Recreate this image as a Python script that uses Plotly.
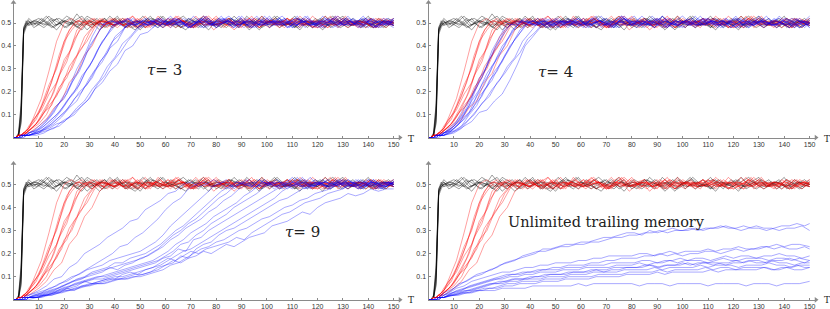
import plotly.graph_objects as go

# time grids (T = 0..6 step 1, then every 3 steps); three phases so runs interleave
T_GRID_A = list(range(0, 7)) + list(range(9, 151, 3))
T_GRID_B = list(range(0, 7)) + list(range(8, 147, 3)) + [150]
T_GRID_C = list(range(0, 7)) + list(range(10, 151, 3)) + [150]
T_GRIDS = [T_GRID_A, T_GRID_B, T_GRID_C]

# values are in hundredths (0.01 units), one list per run
black_runs = [
    [0,0,1,8,46,49,50, 51,49,52,50,48,51,53,49, 50,52,48,50,51,49,53,50, 48,51,50,52,49,51,48,50, 52,50,49,51,47,50,52,49, 51,50,48,52,50,49,51,53, 50,48,50,51,49,52,50,49],
    [0,0,1,12,47,50,51, 49,52,50,47,51,50,49,53, 51,48,50,52,49,50,47,51, 50,53,49,50,51,48,52,50, 49,51,50,48,53,50,49,51, 52,49,50,47,51,50,52,48, 50,51,49,50,53,48,51,50],
    [0,0,1,6,45,48,50, 52,50,48,51,49,54,50,48, 51,50,49,52,50,48,51,49, 53,50,48,50,52,49,51,50, 48,52,51,49,50,47,51,50, 49,51,52,50,48,50,49,51, 53,49,50,48,51,50,52,50],
    [0,0,2,15,48,50,49, 50,48,51,52,50,49,47,51, 50,52,49,50,48,51,50,53, 49,50,51,48,50,52,49,50, 51,49,53,50,48,51,50,49, 50,52,48,51,50,49,53,50, 48,50,51,49,52,50,48,51],
    [0,0,1,10,47,49,51, 48,50,53,49,51,50,48,52, 49,51,50,53,48,50,51,49, 50,48,52,50,51,49,50,47, 51,50,49,52,50,51,48,50, 53,50,49,51,48,52,50,49, 51,50,52,48,50,49,51,50],
    [0,0,1,7,46,49,50, 50,53,49,50,52,48,51,50, 47,50,52,49,51,50,48,52, 50,49,51,53,50,48,51,49, 50,52,49,50,51,48,50,53, 49,50,48,51,50,52,49,50, 52,49,51,50,48,51,50,49],
    [0,0,1,11,47,50,52, 49,51,48,50,53,51,49,50, 52,48,50,51,49,47,50,52, 51,49,50,48,52,50,53,49, 50,48,51,50,49,52,50,51, 48,50,53,49,50,51,48,52, 50,49,50,52,48,51,49,50],
    [0,0,2,14,48,51,49, 51,50,49,52,48,50,51,47, 50,49,53,50,51,48,50,52, 49,51,50,49,47,51,50,52, 48,50,52,49,51,50,53,48, 51,49,50,52,49,50,47,51, 49,52,50,51,49,50,48,52],
]

red_runs = [
    [0,0,1,1,2,3,4, 9,17,29,42,50,52,49,51, 50,48,52,50,49,53,50,48, 51,50,49,52,50,48,51,50, 53,49,50,51,48,50,52,49, 50,51,49,53,50,48,51,50, 49,52,50,48,51,50,49,51],
    [0,0,1,1,2,3,5, 11,18,28,37,47,51,50,48, 52,50,49,51,48,50,53,49, 50,52,48,51,50,49,51,47, 50,52,49,51,50,48,52,50, 51,49,50,52,48,51,50,53, 49,50,51,48,50,52,49,50],
    [0,0,1,1,2,2,4, 8,16,24,36,45,50,52,49, 51,50,48,52,49,50,51,48, 53,50,49,51,50,48,52,49, 50,51,47,50,52,49,51,50, 48,52,50,49,51,50,53,49, 50,48,51,50,49,52,50,51],
    [0,0,1,1,2,3,4, 7,14,23,30,42,47,51,50, 49,52,50,48,51,53,49,50, 51,48,50,52,49,50,51,49, 52,50,48,51,50,49,53,50, 49,51,50,48,52,50,49,51, 50,53,49,50,51,48,50,52],
    [0,0,1,1,2,2,3, 7,13,20,30,37,47,50,52, 50,48,51,49,50,52,48,51, 50,49,53,50,48,51,50,49, 51,52,49,50,48,51,50,52, 49,50,51,49,53,50,48,50, 52,49,51,50,48,50,51,49],
    [0,0,1,1,1,2,3, 6,12,18,27,33,43,48,51, 50,49,52,50,48,51,50,49, 52,50,51,48,50,53,49,50, 51,49,50,52,48,50,51,50, 49,52,50,51,49,48,50,52, 50,51,49,50,52,48,51,50],
    [0,0,1,1,2,3,4, 8,12,19,24,34,39,47,50, 52,49,50,51,48,50,52,49, 51,50,48,52,50,49,51,53, 50,48,51,50,49,52,50,48, 51,50,52,49,50,51,48,50, 53,50,49,51,50,48,52,50],
    [0,0,1,1,1,2,3, 6,10,17,22,31,36,44,48, 51,50,49,52,50,48,51,50, 49,52,50,51,48,50,49,52, 50,51,49,50,53,48,50,51, 50,49,52,50,48,51,50,49, 51,50,48,52,50,49,51,50],
    [0,0,1,1,2,2,3, 6,11,14,22,26,34,39,46, 50,51,49,50,52,48,50,51, 49,50,52,50,48,51,53,50, 49,51,50,48,52,50,49,51, 50,52,49,50,51,48,50,52, 49,51,50,49,52,50,48,51],
    [0,0,1,1,1,2,3, 5,9,14,18,26,30,38,42, 48,51,50,49,52,50,48,51, 50,49,51,53,50,48,50,52, 49,50,51,48,50,52,49,51, 50,48,52,50,49,51,50,53, 48,50,51,49,50,52,50,49],
    [0,0,0,1,1,2,2, 5,8,13,16,24,28,36,40, 47,50,52,49,50,51,48,50, 52,49,50,51,48,50,53,49, 50,51,49,52,50,48,51,50, 49,50,52,49,51,50,48,52, 50,49,51,50,48,51,50,49],
]

blue_tau3 = [
    [0,0,0,1,1,1,2, 4,7,11,17,22,30,36,44, 50,49,51,50,52,48,50,51, 49,52,50,48,51,50,53,49, 50,51,48,50,52,49,50,51, 53,50,49,51,48,50,52,50, 49,51,50,52,49,48,51,50],
    [0,0,0,1,1,1,2, 3,6,10,15,19,26,32,40, 45,50,51,49,52,50,48,51, 50,49,52,51,48,50,51,49, 52,50,48,51,50,53,49,50, 51,48,50,52,49,51,50,48, 50,52,51,49,50,48,52,51],
    [0,0,0,1,1,1,2, 3,6,9,14,17,24,29,37, 43,49,51,50,48,52,50,49, 51,50,53,49,50,48,51,52, 49,50,51,48,52,50,49,51, 50,52,48,50,51,49,53,50, 48,51,50,49,52,50,51,49],
    [0,0,0,0,1,1,1, 2,5,8,12,17,21,28,33, 40,45,50,51,49,50,52,48, 51,50,49,52,50,51,48,50, 53,49,51,50,48,50,52,49, 50,51,49,53,50,48,51,50, 52,49,50,51,48,50,49,52],
    [0,0,0,1,1,1,2, 3,5,8,11,16,20,27,31, 38,43,49,50,52,49,51,50, 48,51,50,49,52,50,48,51, 50,52,49,50,51,48,53,50, 49,50,52,51,49,50,48,51, 50,53,49,50,51,49,50,52],
    [0,0,0,0,1,1,1, 2,4,7,10,14,19,23,30, 35,42,46,50,51,49,50,52, 50,48,51,50,49,53,50,51, 48,50,52,49,51,50,49,52, 50,51,48,50,53,49,51,50, 49,52,50,48,51,50,52,49],
    [0,0,0,1,1,1,1, 2,4,6,9,13,16,22,26, 33,37,44,47,50,51,49,50, 52,49,51,50,48,52,50,49, 51,53,50,48,51,50,49,51, 50,48,52,50,49,51,50,53, 49,50,51,52,48,50,51,49],
    [0,0,0,0,1,1,1, 2,4,6,9,12,17,20,26, 31,36,42,45,50,49,51,50, 52,50,49,51,48,50,53,50, 49,51,50,52,48,51,50,49, 52,50,51,49,50,48,51,52, 50,49,50,53,49,51,50,48],
    [0,0,0,0,1,1,1, 2,3,5,8,11,15,20,23, 29,33,39,42,48,50,51,49, 50,52,48,51,50,49,52,50, 48,51,50,53,49,50,51,48, 50,52,49,50,51,50,48,51, 53,50,49,52,50,48,51,50],
    [0,0,0,0,0,1,1, 2,3,4,7,9,13,16,21, 25,31,35,41,44,48,50,51, 49,50,52,50,48,51,49,50, 52,51,49,50,48,52,50,51, 49,50,53,48,51,50,49,52, 50,51,48,50,52,49,50,51],
    [0,0,0,0,0,1,1, 1,2,4,5,8,10,14,17, 23,27,33,37,42,46,49,50, 52,49,51,50,48,50,52,49, 51,50,48,53,50,49,51,50, 52,48,50,51,49,50,52,50, 49,51,50,48,52,50,49,51],
    [0,0,0,0,0,1,1, 2,3,4,6,7,10,13,16, 21,24,29,32,38,40,45,46, 49,51,50,52,49,50,48,51, 50,52,49,51,50,48,50,53, 49,50,51,48,52,50,49,51, 50,49,52,50,48,51,50,49],
]

blue_tau4 = [
    [0,0,0,1,1,2,2, 5,9,14,22,29,38,44,50, 49,51,50,52,48,50,51,49, 50,52,49,51,50,48,53,50, 51,49,50,52,48,51,50,49, 52,50,51,49,50,53,48,50, 51,49,52,50,49,51,50,48],
    [0,0,0,1,1,1,2, 4,8,13,20,26,34,40,47, 50,51,49,50,52,48,50,51, 49,50,51,53,49,50,48,52, 50,51,49,50,52,49,51,50, 48,52,50,49,51,50,52,49, 50,48,51,52,50,49,50,51],
    [0,0,0,1,1,1,2, 4,7,13,18,26,31,39,44, 49,50,52,49,51,50,48,50, 51,49,50,52,48,51,50,53, 49,50,51,50,48,52,49,51, 50,53,49,50,51,48,50,52, 49,51,50,48,50,52,51,49],
    [0,0,0,1,1,1,2, 4,7,11,18,23,31,36,43, 48,51,50,49,52,50,49,51, 50,48,52,50,49,51,53,50, 48,50,51,49,52,50,48,51, 50,49,52,51,50,48,50,49, 53,50,49,51,50,52,48,50],
    [0,0,0,1,1,1,2, 3,6,12,16,23,28,35,40, 47,50,51,49,50,52,48,50, 51,50,49,52,50,48,51,49, 50,53,50,49,51,50,48,52, 49,50,51,50,52,49,51,48, 50,51,49,53,50,48,51,50],
    [0,0,0,0,1,1,1, 3,6,10,16,21,28,33,40, 44,49,50,51,49,50,52,49, 51,50,48,50,53,49,51,50, 49,52,50,48,51,50,49,51, 52,49,50,51,48,50,52,50, 49,51,50,49,52,51,48,50],
    [0,0,0,1,1,1,2, 3,5,10,14,21,25,32,37, 43,47,51,50,49,51,50,48, 52,50,49,51,50,48,52,51, 49,50,53,50,48,51,50,49, 51,52,50,49,50,48,51,50, 52,49,51,50,48,50,49,52],
    [0,0,0,0,1,1,1, 3,6,9,14,18,25,29,36, 41,47,50,49,51,50,52,49, 50,51,48,50,52,49,50,51, 53,49,50,52,48,50,51,50, 49,51,50,48,52,50,49,51, 50,52,49,50,51,48,50,53],
    [0,0,0,0,1,1,1, 2,5,9,12,18,22,29,33, 40,44,49,51,50,48,50,51, 49,52,50,51,49,50,48,52, 50,49,51,50,53,49,50,48, 51,50,52,49,50,51,48,50, 52,49,50,51,49,50,52,48],
    [0,0,0,0,1,1,1, 2,4,8,12,16,21,25,31, 35,42,46,50,51,49,50,52, 48,50,51,49,52,50,49,51, 50,48,52,50,49,51,53,50, 49,50,51,48,50,52,49,51, 50,53,49,50,48,51,50,49],
    [0,0,0,0,0,1,1, 2,4,7,10,15,18,24,28, 33,37,43,46,50,49,51,50, 52,49,50,48,51,50,52,49, 51,50,49,52,50,48,51,50, 53,49,50,51,49,52,50,48, 51,50,49,50,52,49,51,50],
    [0,0,0,0,0,1,1, 2,3,5,7,11,12,16,19, 25,32,40,44,48,50,49,51, 50,52,49,50,51,48,50,52, 49,51,50,48,53,50,49,51, 50,49,52,50,51,48,50,51, 49,50,52,49,50,51,48,50],
]

blue_tau9 = [
    [0,0,0,1,1,2,2, 4,6,9,10,14,16,20,22, 24,27,29,31,34,35,39,41, 43,46,47,50,51,49,50,52, 50,48,51,50,49,52,50,51, 48,50,53,49,50,51,49,50, 52,50,48,51,50,49,51,50],
    [0,0,0,1,1,1,2, 3,4,5,7,8,10,12,14, 16,18,20,23,24,27,29,32, 35,39,42,44,48,50,51,49, 50,52,48,51,50,49,52,50, 51,48,50,53,49,50,51,50, 49,52,50,48,51,50,49,51],
    [0,0,0,0,1,1,1, 2,3,5,6,8,10,11,13, 14,15,17,18,19,20,21,23, 25,28,32,35,38,41,44,47, 50,51,49,50,52,48,51,50, 49,50,53,50,48,51,50,49, 52,50,51,49,50,48,51,50],
    [0,0,0,0,1,1,1, 2,3,4,6,7,9,10,12, 13,14,16,16,18,19,20,22, 24,27,30,32,35,38,41,44, 47,49,51,50,49,52,50,48, 51,50,49,52,50,51,48,50, 50,49,52,50,51,48,50,51],
    [0,0,0,0,0,1,1, 2,3,4,5,7,8,9,11, 12,13,14,15,16,17,18,20, 22,25,28,30,33,35,38,41, 44,46,49,50,52,49,50,51, 48,50,51,49,53,50,49,51, 50,48,52,50,49,51,50,52],
    [0,0,0,0,1,1,1, 2,3,4,5,6,8,9,10, 11,12,14,13,15,16,18,19, 21,23,26,28,31,33,35,38, 40,43,45,48,50,51,49,50, 52,50,48,51,50,49,52,50, 51,49,50,48,52,50,51,49],
    [0,0,0,0,0,1,1, 2,2,3,5,6,7,8,9, 10,11,12,13,14,15,16,17, 19,21,24,26,29,31,33,36, 38,40,42,45,47,50,51,49, 50,52,50,48,51,50,49,52, 50,51,48,50,52,49,50,51],
    [0,0,0,0,0,1,1, 1,2,3,4,5,7,8,9, 10,10,11,12,13,14,15,16, 17,19,21,24,25,28,30,33, 35,37,40,42,44,46,49,50, 51,49,50,52,48,50,51,50, 52,50,49,51,50,48,51,50],
    [0,0,0,0,0,1,1, 1,2,3,4,5,6,7,8, 9,9,10,11,12,13,14,15, 16,18,19,22,21,26,27,30, 32,34,36,38,40,42,44,46, 48,50,51,49,50,52,50,48, 51,50,49,52,50,51,49,50],
    [0,0,0,0,0,0,1, 1,2,3,3,4,5,6,7, 8,9,10,10,11,12,13,14, 15,17,19,21,22,24,26,28, 30,32,34,36,38,40,42,44, 47,49,50,51,49,50,52,50, 48,51,50,49,52,50,51,49],
    [0,0,0,0,0,0,1, 1,2,2,3,4,5,6,7, 7,8,9,9,10,11,11,12, 13,15,16,19,18,22,24,25, 28,30,31,33,35,37,39,41, 43,44,46,48,49,50,51,49, 50,52,50,48,51,50,49,51],
    [0,0,0,0,0,0,1, 1,1,2,3,4,4,5,6, 7,7,8,9,9,10,10,11, 12,13,15,16,18,20,22,23, 25,26,28,30,31,33,35,36, 38,40,41,43,44,46,47,48, 50,51,49,50,52,50,48,51],
    [0,0,0,0,0,0,1, 1,2,3,4,5,6,8,7, 8,9,9,11,12,11,13,14, 16,18,17,19,21,20,22,23, 24,25,27,26,29,31,33,35, 37,38,40,42,43,44,46,47, 48,50,51,49,50,48,51,50],
    [0,0,0,0,0,0,0, 1,2,2,3,5,4,6,6, 7,7,8,9,9,10,11,12, 14,15,17,16,18,19,21,20, 22,24,23,25,27,28,29,32, 33,34,36,38,37,40,42,43, 44,46,45,46,48,47,48,48],
]

blue_unlimited = [
    [0,0,0,1,1,2,3, 5,7,9,11,12,13,15,16, 17,19,20,21,21,22,23,23, 24,24,25,25,26,27,27,28, 28,29,29,30,29,30,30,31, 30,31,31,32,31,31,32,31, 31,30,31,32,32,33,32,33],
    [0,0,0,1,1,2,2, 4,7,8,10,11,13,14,16, 17,18,19,20,22,22,23,24, 24,25,25,26,27,27,28,29, 29,28,30,29,30,31,30,30, 31,30,31,31,32,31,30,31, 32,31,31,30,31,31,32,30],
    [0,0,0,0,1,1,2, 3,5,6,8,9,10,11,12, 12,13,14,14,15,15,16,16, 16,17,17,18,18,19,19,19, 19,20,20,19,20,21,20,21, 21,21,22,21,22,22,23,22, 22,23,23,24,23,24,24,23],
    [0,0,0,0,1,1,2, 3,4,6,7,8,9,10,11, 11,12,12,13,13,14,14,15, 15,15,16,16,17,17,18,18, 18,19,19,20,19,20,19,20, 20,21,21,20,21,22,21,22, 22,23,22,23,22,22,23,22],
    [0,0,0,0,1,1,1, 3,4,5,6,7,8,9,10, 11,11,12,12,13,13,13,14, 14,14,15,15,15,16,16,16, 16,17,17,16,17,17,18,17, 18,18,17,18,19,18,19,19, 18,19,19,20,19,19,18,19],
    [0,0,0,0,1,1,1, 2,4,5,6,7,8,9,9, 10,10,11,11,12,12,12,13, 13,13,14,14,14,14,15,15, 15,16,15,16,16,17,16,17, 17,17,16,17,18,17,17,18, 18,18,17,18,18,17,18,17],
    [0,0,0,0,0,1,1, 2,3,4,5,6,7,8,8, 9,9,10,10,11,11,11,12, 12,12,13,13,13,14,14,14, 14,15,15,14,15,15,16,15, 16,16,15,16,16,17,16,17, 17,16,17,17,18,17,16,17],
    [0,0,0,0,1,1,1, 2,3,4,5,6,7,7,8, 9,9,9,10,10,11,11,11, 12,12,12,13,12,13,13,14, 14,14,15,14,15,15,15,16, 15,16,16,16,15,16,16,17, 16,16,17,16,16,15,16,16],
    [0,0,0,0,0,1,1, 2,3,4,4,5,6,7,7, 8,8,9,9,9,10,10,10, 11,11,11,12,12,12,12,13, 13,13,13,14,13,14,14,14, 14,15,14,15,15,15,14,15, 15,15,16,15,15,14,15,15],
    [0,0,0,0,0,1,1, 2,3,3,4,5,5,6,7, 7,8,8,8,9,9,9,10, 10,10,10,11,11,11,11,12, 12,12,12,13,12,13,13,13, 13,14,13,14,14,13,14,14, 14,14,13,14,14,15,14,14],
    [0,0,0,0,0,1,1, 2,2,3,4,4,5,5,6, 6,7,7,7,8,8,8,9, 9,9,9,10,10,10,10,11, 11,11,11,12,11,12,12,12, 12,12,13,12,13,13,13,13, 13,14,13,13,14,13,13,14],
    [0,0,0,0,0,1,1, 2,2,3,3,4,4,4,5, 5,5,5,6,6,6,6,6, 6,7,6,7,7,7,7,7, 7,6,7,7,7,6,7,7, 7,7,6,7,7,7,7,6, 7,7,7,6,7,7,7,8],
]

x_ticks = [10, 20, 30, 40, 50, 60, 70, 80, 90, 100, 110, 120, 130, 140, 150]
y_ticks = [0.1, 0.2, 0.3, 0.4, 0.5]
y_tick_text = ["0.1", "0.2", "0.3", "0.4", "0.5"]
panel_labels = ["<i>τ</i>= 3", "<i>τ</i>= 4", "<i>τ</i>= 9", "Unlimited trailing memory"]

W, H = 830, 309
X_RANGE = [0, 152.5]
Y_RANGE = [0, 0.59]

# panel geometry in pixels: (left, right) for x, (bottom, top) for y
panels = [
    dict(blue=blue_tau3, xpx=(13.5, 400.0), ypx=(137.6, 2.4), lab=(164, 70, 15), tpos=(411, 139)),
    dict(blue=blue_tau4, xpx=(428.5, 816.0), ypx=(137.6, 2.4), lab=(555, 72, 15), tpos=(827, 139)),
    dict(blue=blue_tau9, xpx=(13.5, 400.0), ypx=(299.8, 163.5), lab=(302, 232, 15), tpos=(411, 300)),
    dict(blue=blue_unlimited, xpx=(428.5, 816.0), ypx=(299.8, 163.5), lab=(606, 222, 14.5), tpos=(827, 300)),
]

BLACK = "rgba(0,0,0,0.5)"
RED = "rgba(255,0,0,0.5)"
BLUE = "rgba(0,0,255,0.45)"
AXIS = "#8a8a8a"

fig = go.Figure()


def add_runs(runs, color, xa, ya, phase=0):
    for k, run in enumerate(runs):
        grid = T_GRIDS[(k + phase) % 3]
        n = min(len(run), len(grid))
        fig.add_trace(go.Scatter(
            x=grid[:n], y=[v / 100 for v in run[:n]], mode="lines",
            line=dict(color=color, width=0.75), xaxis=xa, yaxis=ya,
            showlegend=False, hoverinfo="skip"))


annotations = []
layout_axes = {}
for i, p in enumerate(panels, start=1):
    sfx = "" if i == 1 else str(i)
    xa, ya = "x" + sfx, "y" + sfx
    add_runs(black_runs, BLACK, xa, ya, 0)
    add_runs(red_runs, RED, xa, ya, 1)
    add_runs(p["blue"], BLUE, xa, ya, 2)
    # axis arrowheads
    fig.add_trace(go.Scatter(x=[X_RANGE[1]], y=[0], mode="markers", xaxis=xa, yaxis=ya,
                             marker=dict(symbol="triangle-right", size=5, color=AXIS),
                             cliponaxis=False, showlegend=False, hoverinfo="skip"))
    fig.add_trace(go.Scatter(x=[0], y=[Y_RANGE[1]], mode="markers", xaxis=xa, yaxis=ya,
                             marker=dict(symbol="triangle-up", size=5, color=AXIS),
                             cliponaxis=False, showlegend=False, hoverinfo="skip"))
    xl, xr = p["xpx"]
    yb, yt = p["ypx"]
    layout_axes["xaxis" + sfx] = dict(
        domain=[xl / W, xr / W], range=X_RANGE, anchor=ya, showgrid=False, zeroline=False,
        showline=True, linecolor=AXIS, linewidth=1, ticks="inside", ticklen=2,
        tickcolor=AXIS, tickvals=x_ticks, tickfont=dict(size=7, color="#333",
        family="Liberation Sans"), fixedrange=True)
    layout_axes["yaxis" + sfx] = dict(
        domain=[1 - yb / H, 1 - yt / H], range=Y_RANGE, anchor=xa, showgrid=False,
        zeroline=False, showline=True, linecolor=AXIS, linewidth=1, ticks="inside",
        ticklen=2, tickcolor=AXIS, tickvals=y_ticks, ticktext=y_tick_text,
        tickfont=dict(size=7, color="#333", family="Liberation Sans"), fixedrange=True)
    lx, ly, ls = p["lab"]
    annotations.append(dict(text=panel_labels[i - 1], x=lx / W, y=1 - ly / H, xref="paper",
                            yref="paper", showarrow=False, xanchor="center", yanchor="middle",
                            font=dict(family="DejaVu Serif", size=ls, color="#222")))
    tx, ty = p["tpos"]
    annotations.append(dict(text="T", x=tx / W, y=1 - ty / H, xref="paper", yref="paper",
                            showarrow=False, xanchor="center", yanchor="middle",
                            font=dict(family="DejaVu Serif", size=9, color="#222")))

fig.update_layout(
    width=W, height=H, margin=dict(l=0, r=0, t=0, b=0),
    paper_bgcolor="white", plot_bgcolor="white", showlegend=False,
    annotations=annotations, **layout_axes)

fig.write_html("out.html", config={"displayModeBar": False},
               post_script="document.body.style.margin='0';document.body.style.padding='0';"
                           "document.body.style.overflow='hidden';")
